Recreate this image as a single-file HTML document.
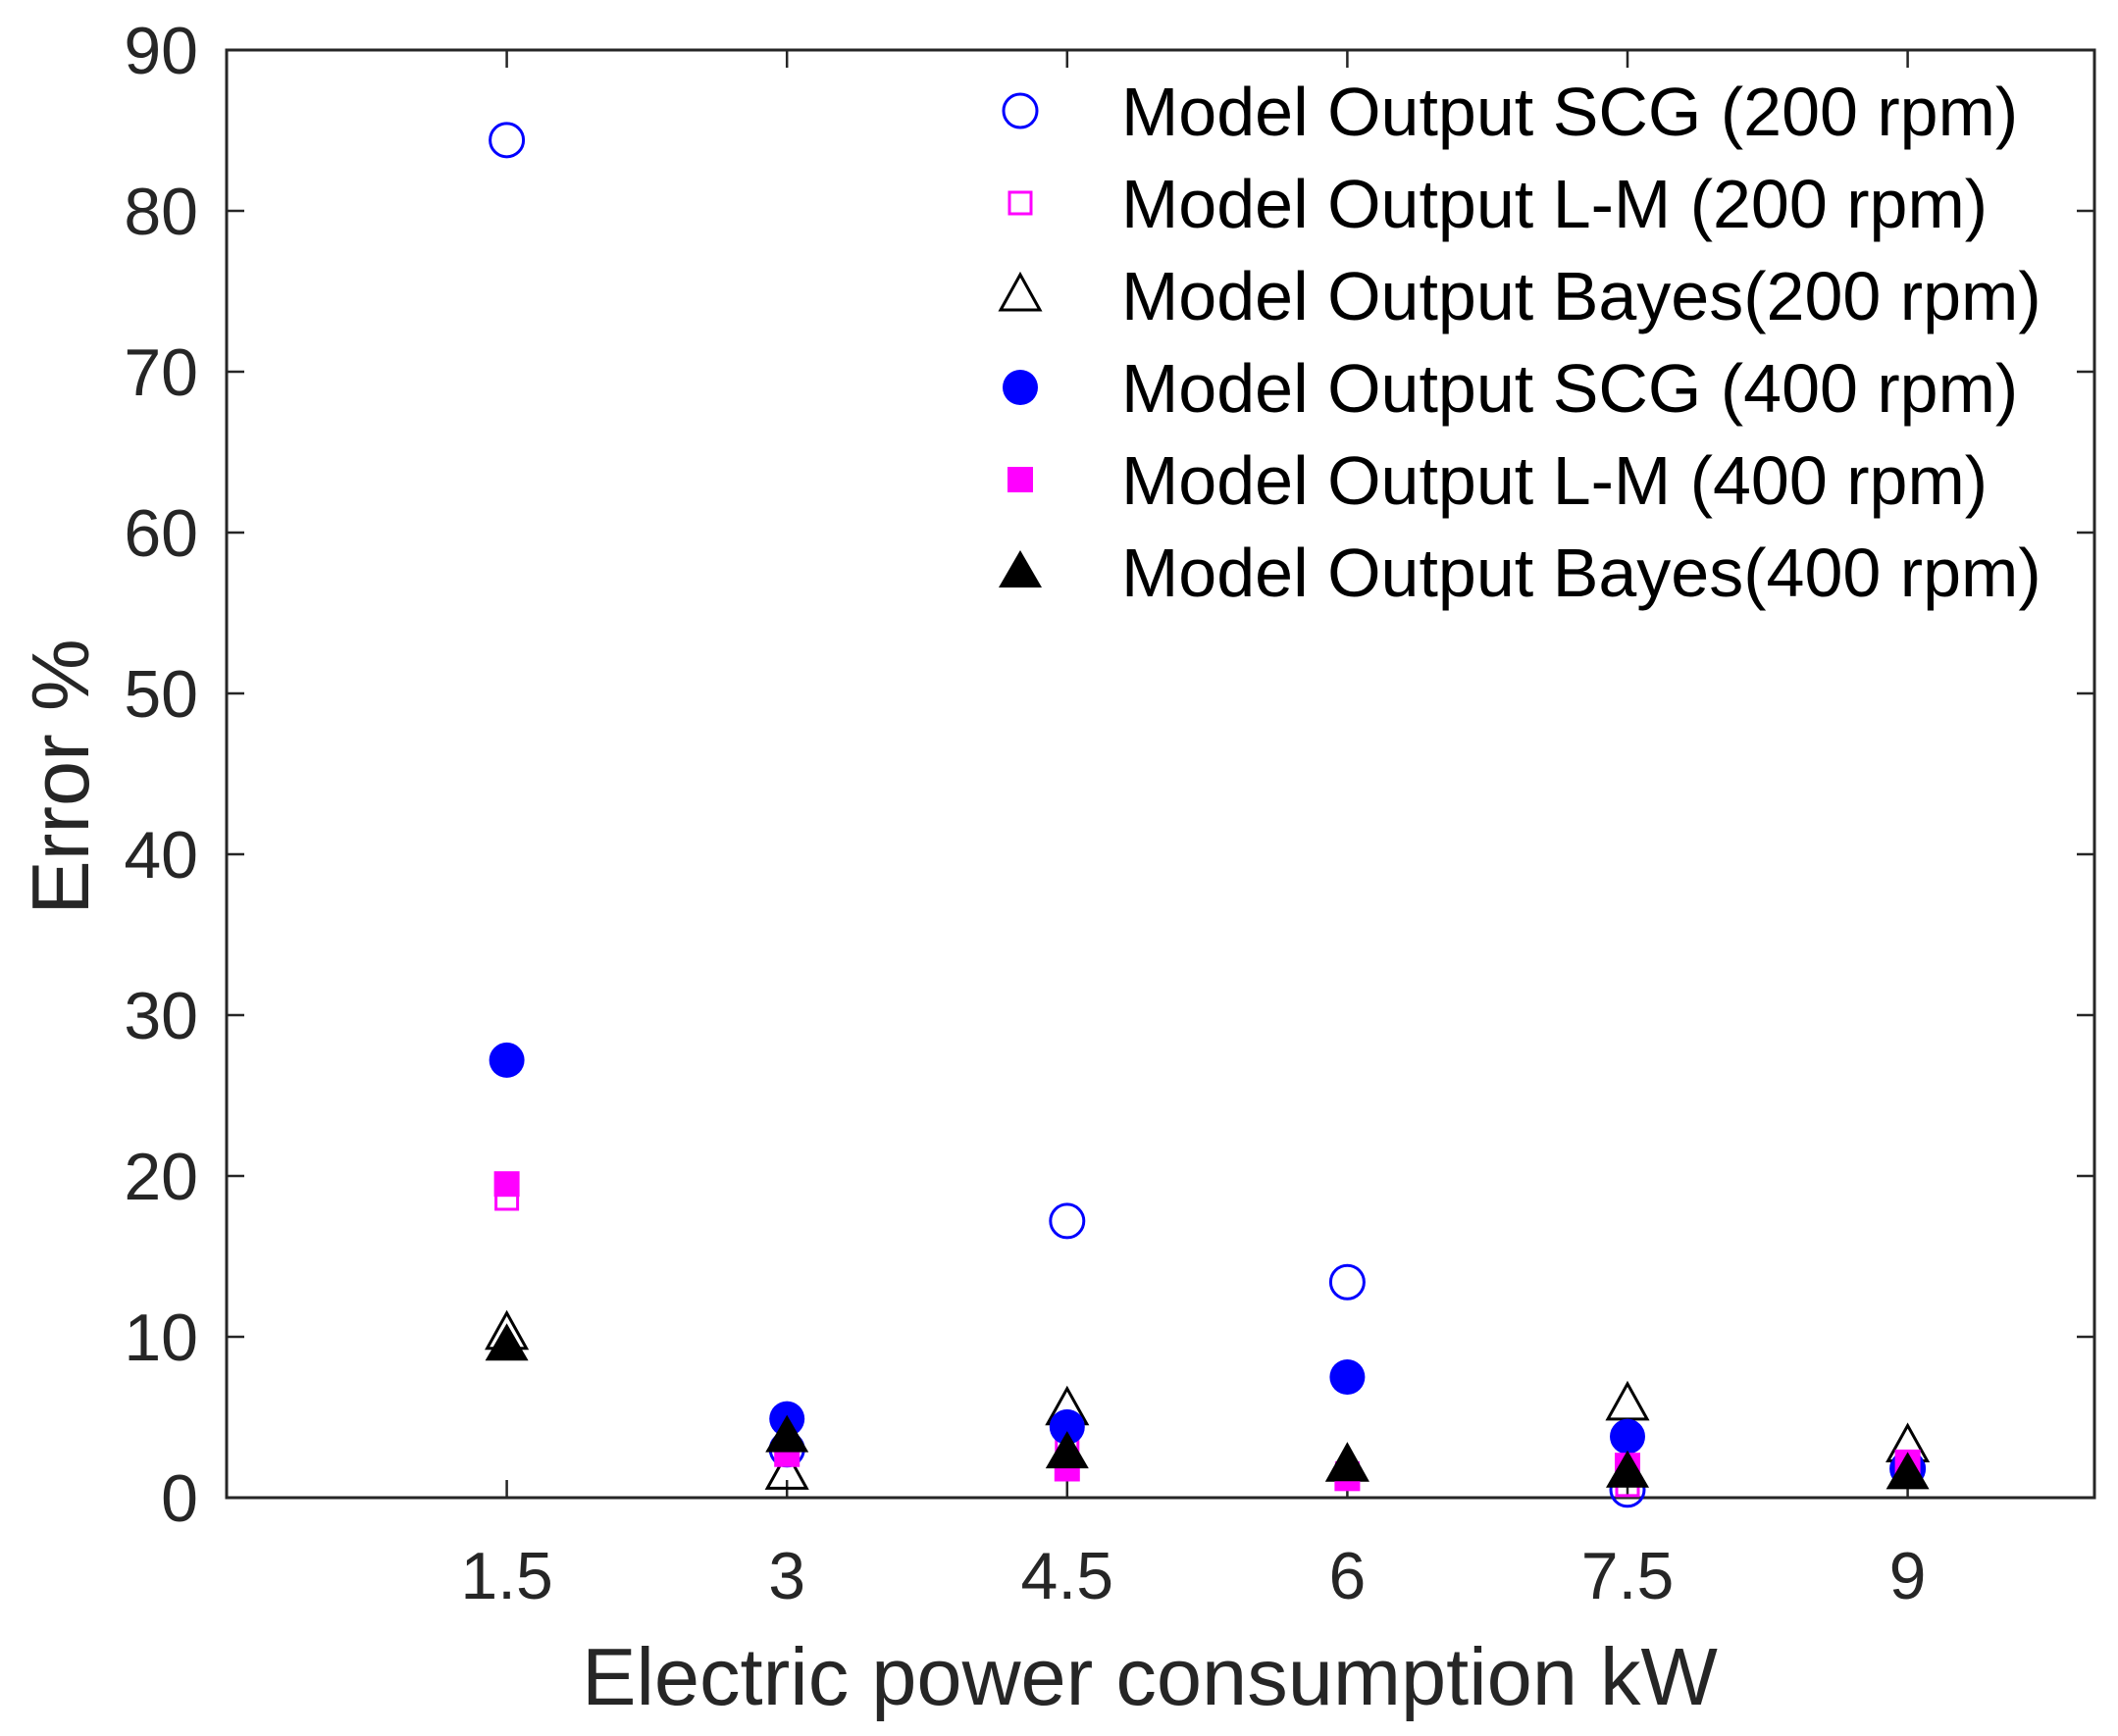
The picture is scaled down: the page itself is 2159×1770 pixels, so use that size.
<!DOCTYPE html>
<html><head><meta charset="utf-8"><style>body{margin:0;background:#fff}svg{display:block;font-family:"Liberation Sans",sans-serif}</style></head>
<body>
<svg id="chart" width="2159" height="1770" viewBox="0 0 2159 1770" xmlns="http://www.w3.org/2000/svg">
<rect width="2159" height="1770" fill="#fff"/>
<g id="axes"></g>
<g id="marks"></g>
<g id="legend"></g>
</svg>
<script>
const xCategories = [1.5, 3, 4.5, 6, 7.5, 9];
const xTickLabels = ["1.5", "3", "4.5", "6", "7.5", "9"];
const yTicks = [0, 10, 20, 30, 40, 50, 60, 70, 80, 90];
const scg200 = [84.4, 3.0, 17.2, 13.4, 0.5, 1.8];
const lm200 = [18.6, 2.7, 3.5, 1.5, 0.8, 2.2];
const bayes200 = [10.2, 1.5, 5.5, 2.0, 5.8, 3.2];
const scg400 = [27.2, 4.9, 4.4, 7.5, 3.8, 1.8];
const lm400 = [19.5, 2.7, 1.8, 1.2, 2.0, 2.2];
const bayes400 = [9.5, 3.8, 2.8, 2.0, 1.6, 1.5];
const legendLabels = ["Model Output SCG (200 rpm)","Model Output L-M (200 rpm)","Model Output Bayes(200 rpm)","Model Output SCG (400 rpm)","Model Output L-M (400 rpm)","Model Output Bayes(400 rpm)"];

const NS="http://www.w3.org/2000/svg";
const L=231,R=2135,T=51,B=1527,XMAX=10,YMAX=90;
const xS=v=>L+v/XMAX*(R-L);
const yS=v=>B-v/YMAX*(B-T);
const C="#262626";
function mk(tag,attrs,parent,text){const e=document.createElementNS(NS,tag);for(const k in attrs)e.setAttribute(k,attrs[k]);if(text!==undefined)e.textContent=text;parent.appendChild(e);return e;}
const axes=document.getElementById('axes'),marks=document.getElementById('marks'),legend=document.getElementById('legend');

const frame=mk('rect',{x:L,y:T,width:R-L,height:B-T,fill:'none',stroke:C,'stroke-width':3},axes);



xCategories.forEach((v,i)=>{
  const x=xS(v);
  const t=mk('path',{d:`M${x},${B}V${B-18}M${x},${T}V${T+18}`,stroke:C,'stroke-width':2.5},axes);
  
  
  const lb=mk('text',{x:x,y:1630,'text-anchor':'middle','font-size':68,fill:C},axes,xTickLabels[i]);
  
  
});
yTicks.forEach(v=>{
  const y=yS(v);
  const t=mk('path',{d:`M${L},${y}H${L+18}M${R},${y}H${R-18}`,stroke:C,'stroke-width':2.5},axes);
  
  
  const lb=mk('text',{x:202,y:y+24,'text-anchor':'end','font-size':68,fill:C},axes,String(v));
  
  
});
const xt=mk('text',{x:1172,y:1738,'text-anchor':'middle','font-size':83,fill:C},axes,"Electric power consumption  kW");


const yt=mk('text',{x:0,y:0,'text-anchor':'middle','font-size':83,fill:C,transform:'translate(90,792) rotate(-90)'},axes,"Error %");



function marker(kind,x,y,parent){
  let e;
  if(kind==='co') e=mk('circle',{cx:x,cy:y,r:17,fill:'none',stroke:'#0000ff','stroke-width':3},parent);
  else if(kind==='cf') e=mk('circle',{cx:x,cy:y,r:18,fill:'#0000ff'},parent);
  else if(kind==='so') e=mk('rect',{x:x-11,y:y-11,width:22,height:22,fill:'none',stroke:'#ff00ff','stroke-width':3},parent);
  else if(kind==='sf') e=mk('rect',{x:x-13,y:y-13,width:26,height:26,fill:'#ff00ff'},parent);
  else if(kind==='to') e=mk('path',{d:`M${x},${y-21}L${x+20},${y+15}L${x-20},${y+15}Z`,fill:'none',stroke:'#000','stroke-width':3},parent);
  else e=mk('path',{d:`M${x},${y-22}L${x+22},${y+16}L${x-22},${y+16}Z`,fill:'#000'},parent);
  return e;
}
const series=[[scg200,'co','scg-200'],[lm200,'so','lm-200'],[bayes200,'to','bayes-200'],[scg400,'cf','scg-400'],[lm400,'sf','lm-400'],[bayes400,'tf','bayes-400']];
series.forEach(([vals,kind,name])=>{
  vals.forEach((v,i)=>{
    const m=marker(kind,xS(xCategories[i]),yS(v),marks);
    
    
  });
});
series.forEach(([vals,kind,name],i)=>{
  const y=113+i*94;
  const m=marker(kind,1040,y,legend);
  
  
  const t=mk('text',{x:1143,y:y+25,'font-size':70,fill:'#000'},legend,legendLabels[i]);
  
  
});
</script>
</body></html>
